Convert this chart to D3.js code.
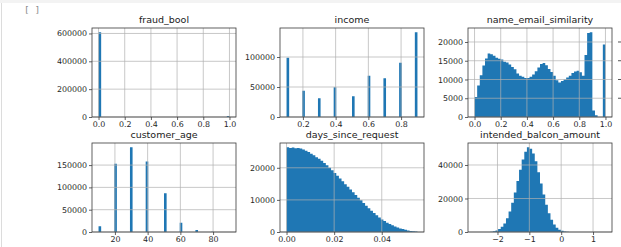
<!DOCTYPE html>
<html>
<head>
<meta charset="utf-8">
<script src="https://cdn.jsdelivr.net/npm/d3@7"></script>
<style>
  html, body { margin: 0; padding: 0; background: #fff; }
  svg { display: block; font-family: "DejaVu Sans", sans-serif; }
</style>
</head>
<body>
<svg id="chart" width="621" height="247"></svg>
<script>
var binCount = 50;

// fraud_bool (discrete values)
var fraudRange = [0, 1];
var fraudValues = [0, 1];
var fraudCounts = [608800, 6700];
var fraudXTicks = [0, 0.2, 0.4, 0.6, 0.8, 1.0];
var fraudYTicks = [0, 200000, 400000, 600000];

// income (discrete values)
var incomeRange = [0.1, 0.9];
var incomeValues = [0.1, 0.2, 0.3, 0.4, 0.5, 0.6, 0.7, 0.8, 0.9];
var incomeCounts = [98800, 43800, 31200, 49500, 34500, 68800, 64500, 90500, 141300];
var incomeXTicks = [0.2, 0.4, 0.6, 0.8];
var incomeYTicks = [0, 50000, 100000];

// name_email_similarity (50 bins)
var emailRange = [0, 1];
var emailCounts = [
  5300, 8400, 11100, 13700, 15600, 16900, 16700, 16300, 15800, 15500,
  15300, 14700, 14500, 14000, 13300, 12700, 11600, 11000, 10700, 10400,
  10400, 10700, 11300, 12200, 13200, 14100, 14400, 13800, 12800, 12000,
  11000, 9800, 9200, 9600, 10000, 10500, 11000, 11700, 12100, 12300,
  11900, 11000, 16500, 22400, 22600, 1700, 500, 0, 0, 19300
];
var emailXTicks = [0, 0.2, 0.4, 0.6, 0.8, 1.0];
var emailYTicks = [0, 5000, 10000, 15000, 20000];

// customer_age (discrete values)
var ageRange = [10, 90];
var ageValues = [10, 20, 30, 40, 50, 60, 70, 80, 90];
var ageCounts = [12800, 153000, 190000, 158000, 87000, 21000, 4500, 700, 60];
var ageXTicks = [20, 40, 60, 80];
var ageYTicks = [0, 50000, 100000, 150000];

// days_since_request (50 bins)
var daysRange = [0, 0.055];
var daysCounts = [
  26400, 26200, 26300, 26100, 26200, 26000, 25700, 25300, 24900, 24400,
  23900, 23300, 22800, 22200, 21500, 20800, 20000, 19200, 18400, 17500,
  16700, 15800, 14900, 14100, 13200, 12400, 11500, 10700, 9900, 9000,
  8200, 7400, 6600, 5900, 5200, 4500, 3900, 3400, 2900, 2500,
  2100, 1700, 1400, 1100, 900, 700, 500, 350, 220, 120
];
var daysXTicks = [0, 0.02, 0.04];
var daysYTicks = [0, 10000, 20000];

// intended_balcon_amount (50 bins)
var balconRange = [-2.72, 1.39];
var balconCounts = [
  3, 0, 0, 0, 0, 20, 150, 450, 950, 1800,
  3100, 5100, 8200, 12200, 17500, 23600, 30400, 37200, 43300, 47900,
  50600, 49700, 46800, 42200, 35700, 29000, 22400, 16300, 11200, 7300,
  4500, 2600, 1400, 700, 330, 150, 60, 25, 10, 5,
  3, 2, 1, 1, 0, 0, 0, 0, 0, 1
];
var balconXTicks = [-2, -1, 0, 1];
var balconYTicks = [0, 20000, 40000];

var colX = [92, 280, 468];
var rowY = [28, 143];
var axW = 144;
var axH = 89;
var barColor = '#1f77b4';

var svg = d3.select('#chart');

// page chrome of the notebook cell
svg.append('rect').attr('x', 0).attr('y', 0).attr('width', 621).attr('height', 3).attr('fill', '#f3f3f3');
svg.append('line').attr('x1', 1.5).attr('x2', 1.5).attr('y1', 3).attr('y2', 247)
  .attr('stroke', '#dcdcdc').attr('stroke-width', 1);
svg.append('text').attr('x', 24).attr('y', 13)
  .attr('font-family', '"DejaVu Sans Mono", monospace').attr('font-size', 9)
  .attr('fill', '#8a8a8a').attr('xml:space', 'preserve').text('[ ]');

function countsFromValues(range, values, counts){
  var w = (range[1] - range[0]) / binCount;
  var out = d3.range(binCount).map(function(){ return 0; });
  values.forEach(function(v, i){
    var k = Math.min(binCount - 1, Math.floor((v - range[0]) / w + 1e-9));
    out[k] += counts[i];
  });
  return out;
}

function drawPanel(p){
  var left = colX[p.col], top = rowY[p.row];
  var lo = p.range[0], hi = p.range[1];
  var pad = (hi - lo) * 0.05;
  var w = (hi - lo) / binCount;

  var x = d3.scaleLinear().domain([lo - pad, hi + pad]).range([left, left + axW]);
  var y = d3.scaleLinear().domain([0, d3.max(p.counts) * 1.05]).range([top + axH, top]);

  var g = svg.append('g');

  var pts = p.counts.map(function(c, k){ return [lo + k * w, c]; });
  pts.push([hi, p.counts[binCount - 1]]);

  var area = d3.area()
    .x(function(d){ return x(d[0]); })
    .y0(y(0))
    .y1(function(d){ return y(d[1]); })
    .curve(d3.curveStepAfter);

  g.append('path').datum(pts).attr('d', area).attr('fill', barColor);

  // grid over the bars, as matplotlib does
  g.selectAll('.vgrid').data(p.xTicks).enter().append('line')
    .attr('x1', function(d){ return x(d); }).attr('x2', function(d){ return x(d); })
    .attr('y1', top).attr('y2', top + axH)
    .attr('stroke', '#b0b0b0').attr('stroke-width', 0.7);
  g.selectAll('.hgrid').data(p.yTicks).enter().append('line')
    .attr('x1', left).attr('x2', left + axW)
    .attr('y1', function(d){ return y(d); }).attr('y2', function(d){ return y(d); })
    .attr('stroke', '#b0b0b0').attr('stroke-width', 0.7);

  g.append('rect').attr('x', left).attr('y', top).attr('width', axW).attr('height', axH)
    .attr('fill', 'none').attr('stroke', '#3a3a3a').attr('stroke-width', 0.8);

  var xAxis = d3.axisBottom(x).tickValues(p.xTicks).tickFormat(d3.format(p.xFormat))
    .tickSizeInner(3).tickSizeOuter(0).tickPadding(1.4);
  var gx = g.append('g').attr('transform', 'translate(0,' + (top + axH) + ')').call(xAxis);

  var yAxis = d3.axisLeft(y).tickValues(p.yTicks).tickFormat(d3.format('d'))
    .tickSizeInner(3).tickSizeOuter(0).tickPadding(2);
  var gy = g.append('g').attr('transform', 'translate(' + left + ',0)').call(yAxis);

  [gx, gy].forEach(function(a){
    a.select('.domain').remove();
    a.selectAll('line').attr('stroke', '#3a3a3a').attr('stroke-width', 0.8);
    a.selectAll('text').attr('font-family', '"DejaVu Sans", sans-serif')
      .attr('font-size', 7.9).attr('fill', '#262626');
  });

  g.append('text').attr('x', left + axW / 2).attr('y', top - 5)
    .attr('text-anchor', 'middle').attr('font-size', 9.5).attr('fill', '#1a1a1a')
    .text(p.title);

  return y;
}

drawPanel({ title: 'fraud_bool', col: 0, row: 0, range: fraudRange,
  counts: countsFromValues(fraudRange, fraudValues, fraudCounts),
  xTicks: fraudXTicks, yTicks: fraudYTicks, xFormat: '.1f' });

drawPanel({ title: 'income', col: 1, row: 0, range: incomeRange,
  counts: countsFromValues(incomeRange, incomeValues, incomeCounts),
  xTicks: incomeXTicks, yTicks: incomeYTicks, xFormat: '.1f' });

var emailY = drawPanel({ title: 'name_email_similarity', col: 2, row: 0, range: emailRange,
  counts: emailCounts, xTicks: emailXTicks, yTicks: emailYTicks, xFormat: '.1f' });

drawPanel({ title: 'customer_age', col: 0, row: 1, range: ageRange,
  counts: countsFromValues(ageRange, ageValues, ageCounts),
  xTicks: ageXTicks, yTicks: ageYTicks, xFormat: 'd' });

drawPanel({ title: 'days_since_request', col: 1, row: 1, range: daysRange,
  counts: daysCounts, xTicks: daysXTicks, yTicks: daysYTicks, xFormat: '.2f' });

drawPanel({ title: 'intended_balcon_amount', col: 2, row: 1, range: balconRange,
  counts: balconCounts, xTicks: balconXTicks, yTicks: balconYTicks, xFormat: 'd' });

// clipped tick labels of the next column peeking in at the right edge
svg.selectAll('.peek').data(emailYTicks.slice(1)).enter().append('line')
  .attr('x1', 618).attr('x2', 621)
  .attr('y1', function(d){ return emailY(d); }).attr('y2', function(d){ return emailY(d); })
  .attr('stroke', '#555').attr('stroke-width', 1);
</script>
</body>
</html>
